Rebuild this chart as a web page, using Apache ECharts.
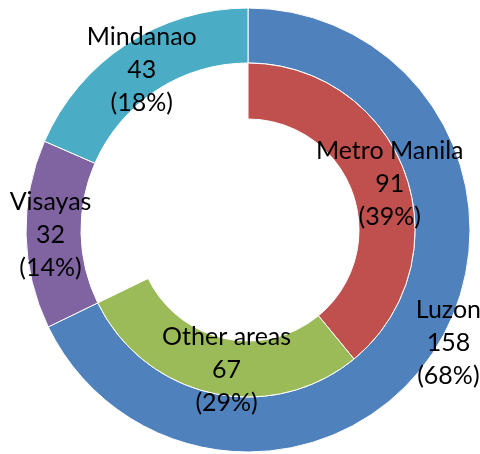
<!DOCTYPE html>
<html>
<head>
<meta charset="utf-8">
<script src="https://cdn.jsdelivr.net/npm/echarts@6/dist/echarts.min.js"></script>
<style>
  html, body { margin: 0; padding: 0; background: #fff; }
  #chart { width: 480px; height: 454px; }
</style>
</head>
<body>
<div id="chart"></div>
<script>
// outer ring: island groups
var regionNames = ['Luzon', 'Visayas', 'Mindanao'];
var regionValues = [158, 32, 43];
// inner ring: split of Luzon
var luzonNames = ['Metro Manila', 'Other areas'];
var luzonValues = [91, 67];

var regionColors = ['#4f81bd', '#8064a2', '#4bacc6'];
var luzonColors = ['#c0504d', '#9bbb59'];

// small nudges so labels sit where the original put them
var labelNudge = {
    'Luzon': [33, 8],
    'Mindanao': [2, 5],
    'Visayas': [0, 1],
    'Metro Manila': [8, 2],
    'Other areas': [9, 1]
};

var total = regionValues.reduce(function (a, b) { return a + b; }, 0);
var luzonTotal = luzonValues.reduce(function (a, b) { return a + b; }, 0);

var outerData = regionNames.map(function (n, i) {
    return { name: n, value: regionValues[i], itemStyle: { color: regionColors[i] } };
});
var innerData = luzonNames.map(function (n, i) {
    return { name: n, value: luzonValues[i], itemStyle: { color: luzonColors[i] } };
});
// empty gap so the inner ring only covers the Luzon part
innerData.push({
    name: '', value: total - luzonTotal,
    itemStyle: { color: 'transparent', borderWidth: 0 },
    label: { show: false }
});

var labelStyle = {
    show: true,
    position: 'inside',
    formatter: '{b}\n{c}\n({d}%)',
    color: '#000',
    fontFamily: 'Lato',
    fontSize: 25,
    lineHeight: 33
};

function nudge(params) {
    var names = params.seriesIndex === 0 ? regionNames : luzonNames;
    var n = labelNudge[names[params.dataIndex]];
    return n ? { dx: n[0], dy: n[1] } : {};
}

var myChart = echarts.init(document.getElementById('chart'));
var option = {
    animation: false,
    series: [
        {
            name: 'Regions',
            type: 'pie',
            center: [248, 230],
            radius: [167, 222],
            startAngle: 90,
            percentPrecision: 0,
            silent: true,
            itemStyle: { borderColor: '#fff', borderWidth: 1 },
            label: labelStyle,
            labelLine: { show: false },
            labelLayout: nudge,
            data: outerData
        },
        {
            name: 'Luzon',
            type: 'pie',
            center: [248, 230],
            radius: [111, 167],
            startAngle: 90,
            percentPrecision: 0,
            silent: true,
            itemStyle: { borderColor: '#fff', borderWidth: 1 },
            label: labelStyle,
            labelLine: { show: false },
            labelLayout: nudge,
            data: innerData
        }
    ]
};
myChart.setOption(option);
</script>
</body>
</html>
